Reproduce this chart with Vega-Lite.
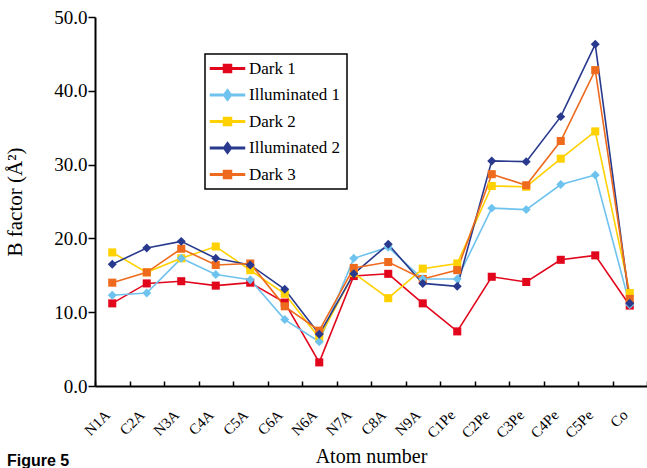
{
  "$schema": "https://vega.github.io/schema/vega-lite/v6.json",
  "width": 552,
  "height": 369,
  "autosize": "none",
  "padding": {"left": 95, "top": 17, "right": 0, "bottom": 82},
  "background": "white",
  "config": {
    "font": "Liberation Serif",
    "view": {"stroke": null}
  },
  "title": {
    "text": "Figure 5",
    "orient": "bottom",
    "anchor": "start",
    "frame": "group",
    "font": "Liberation Sans",
    "fontWeight": "bold",
    "fontSize": 16,
    "color": "black",
    "dx": -88,
    "offset": -14
  },
  "data": {
    "values": [
      {"atom": "N1A", "series": "Dark 1", "b": 11.2},
      {"atom": "C2A", "series": "Dark 1", "b": 13.9},
      {"atom": "N3A", "series": "Dark 1", "b": 14.2},
      {"atom": "C4A", "series": "Dark 1", "b": 13.6},
      {"atom": "C5A", "series": "Dark 1", "b": 14.0},
      {"atom": "C6A", "series": "Dark 1", "b": 11.3},
      {"atom": "N6A", "series": "Dark 1", "b": 3.2},
      {"atom": "N7A", "series": "Dark 1", "b": 14.9},
      {"atom": "C8A", "series": "Dark 1", "b": 15.2},
      {"atom": "N9A", "series": "Dark 1", "b": 11.2},
      {"atom": "C1Pe", "series": "Dark 1", "b": 7.4},
      {"atom": "C2Pe", "series": "Dark 1", "b": 14.8},
      {"atom": "C3Pe", "series": "Dark 1", "b": 14.1},
      {"atom": "C4Pe", "series": "Dark 1", "b": 17.1},
      {"atom": "C5Pe", "series": "Dark 1", "b": 17.7},
      {"atom": "Co", "series": "Dark 1", "b": 10.9},
      {"atom": "N1A", "series": "Illuminated 1", "b": 12.3},
      {"atom": "C2A", "series": "Illuminated 1", "b": 12.6},
      {"atom": "N3A", "series": "Illuminated 1", "b": 17.3},
      {"atom": "C4A", "series": "Illuminated 1", "b": 15.1},
      {"atom": "C5A", "series": "Illuminated 1", "b": 14.4},
      {"atom": "C6A", "series": "Illuminated 1", "b": 9.0},
      {"atom": "N6A", "series": "Illuminated 1", "b": 6.0},
      {"atom": "N7A", "series": "Illuminated 1", "b": 17.3},
      {"atom": "C8A", "series": "Illuminated 1", "b": 18.8},
      {"atom": "N9A", "series": "Illuminated 1", "b": 14.5},
      {"atom": "C1Pe", "series": "Illuminated 1", "b": 14.5},
      {"atom": "C2Pe", "series": "Illuminated 1", "b": 24.1},
      {"atom": "C3Pe", "series": "Illuminated 1", "b": 23.9},
      {"atom": "C4Pe", "series": "Illuminated 1", "b": 27.3},
      {"atom": "C5Pe", "series": "Illuminated 1", "b": 28.6},
      {"atom": "Co", "series": "Illuminated 1", "b": 11.0},
      {"atom": "N1A", "series": "Dark 2", "b": 18.1},
      {"atom": "C2A", "series": "Dark 2", "b": 15.4},
      {"atom": "N3A", "series": "Dark 2", "b": 17.3},
      {"atom": "C4A", "series": "Dark 2", "b": 18.9},
      {"atom": "C5A", "series": "Dark 2", "b": 15.7},
      {"atom": "C6A", "series": "Dark 2", "b": 12.5},
      {"atom": "N6A", "series": "Dark 2", "b": 6.5},
      {"atom": "N7A", "series": "Dark 2", "b": 15.3},
      {"atom": "C8A", "series": "Dark 2", "b": 11.9},
      {"atom": "N9A", "series": "Dark 2", "b": 15.9},
      {"atom": "C1Pe", "series": "Dark 2", "b": 16.6},
      {"atom": "C2Pe", "series": "Dark 2", "b": 27.1},
      {"atom": "C3Pe", "series": "Dark 2", "b": 27.0},
      {"atom": "C4Pe", "series": "Dark 2", "b": 30.8},
      {"atom": "C5Pe", "series": "Dark 2", "b": 34.5},
      {"atom": "Co", "series": "Dark 2", "b": 12.6},
      {"atom": "N1A", "series": "Illuminated 2", "b": 16.5},
      {"atom": "C2A", "series": "Illuminated 2", "b": 18.7},
      {"atom": "N3A", "series": "Illuminated 2", "b": 19.6},
      {"atom": "C4A", "series": "Illuminated 2", "b": 17.3},
      {"atom": "C5A", "series": "Illuminated 2", "b": 16.4},
      {"atom": "C6A", "series": "Illuminated 2", "b": 13.1},
      {"atom": "N6A", "series": "Illuminated 2", "b": 7.0},
      {"atom": "N7A", "series": "Illuminated 2", "b": 15.2},
      {"atom": "C8A", "series": "Illuminated 2", "b": 19.2},
      {"atom": "N9A", "series": "Illuminated 2", "b": 13.9},
      {"atom": "C1Pe", "series": "Illuminated 2", "b": 13.5},
      {"atom": "C2Pe", "series": "Illuminated 2", "b": 30.5},
      {"atom": "C3Pe", "series": "Illuminated 2", "b": 30.4},
      {"atom": "C4Pe", "series": "Illuminated 2", "b": 36.5},
      {"atom": "C5Pe", "series": "Illuminated 2", "b": 46.3},
      {"atom": "Co", "series": "Illuminated 2", "b": 11.2},
      {"atom": "N1A", "series": "Dark 3", "b": 14.0},
      {"atom": "C2A", "series": "Dark 3", "b": 15.4},
      {"atom": "N3A", "series": "Dark 3", "b": 18.6},
      {"atom": "C4A", "series": "Dark 3", "b": 16.4},
      {"atom": "C5A", "series": "Dark 3", "b": 16.6},
      {"atom": "C6A", "series": "Dark 3", "b": 10.8},
      {"atom": "N6A", "series": "Dark 3", "b": 7.5},
      {"atom": "N7A", "series": "Dark 3", "b": 16.0},
      {"atom": "C8A", "series": "Dark 3", "b": 16.8},
      {"atom": "N9A", "series": "Dark 3", "b": 14.5},
      {"atom": "C1Pe", "series": "Dark 3", "b": 15.7},
      {"atom": "C2Pe", "series": "Dark 3", "b": 28.7},
      {"atom": "C3Pe", "series": "Dark 3", "b": 27.2},
      {"atom": "C4Pe", "series": "Dark 3", "b": 33.2},
      {"atom": "C5Pe", "series": "Dark 3", "b": 42.8},
      {"atom": "Co", "series": "Dark 3", "b": 11.8}
    ]
  },
  "encoding": {
    "x": {
      "field": "atom",
      "type": "nominal",
      "sort": ["N1A","C2A","N3A","C4A","C5A","C6A","N6A","N7A","C8A","N9A","C1Pe","C2Pe","C3Pe","C4Pe","C5Pe","Co"],
      "scale": {"paddingInner": 0, "paddingOuter": 0},
      "axis": {
        "title": "Atom number",
        "titleFont": "Liberation Serif",
        "titleFontSize": 20,
        "titleFontWeight": "normal",
        "titleColor": "black",
        "titlePadding": 6,
        "labelAngle": -45,
        "labelFont": "Liberation Serif",
        "labelFontSize": 15,
        "labelColor": "black",
        "labelPadding": 26,
        "labelOffset": -10,
        "tickBand": "extent",
        "tickSize": -5,
        "tickColor": "black",
        "tickWidth": 1.5,
        "domainColor": "black",
        "domainWidth": 2,
        "grid": false
      }
    },
    "y": {
      "field": "b",
      "type": "quantitative",
      "scale": {"domain": [0, 50], "nice": false},
      "axis": {
        "title": "B factor (Å²)",
        "titleFont": "Liberation Serif",
        "titleFontSize": 21,
        "titleFontWeight": "normal",
        "titleColor": "black",
        "titlePadding": 28,
        "values": [0, 10, 20, 30, 40, 50],
        "format": ".1f",
        "labelFont": "Liberation Serif",
        "labelFontSize": 19,
        "labelColor": "black",
        "labelPadding": 1,
        "tickSize": 7,
        "tickColor": "black",
        "tickWidth": 1.5,
        "domainColor": "black",
        "domainWidth": 2,
        "grid": false
      }
    },
    "color": {
      "field": "series",
      "type": "nominal",
      "scale": {
        "domain": ["Dark 1", "Illuminated 1", "Dark 2", "Illuminated 2", "Dark 3"],
        "range": ["#e2061c", "#6ec3ee", "#ffd100", "#293a8e", "#ee6a1c"]
      },
      "legend": {
        "title": null,
        "orient": "none",
        "legendX": 110,
        "legendY": 37,
        "strokeColor": "black",
        "padding": 6,
        "labelFont": "Liberation Serif",
        "labelFontSize": 17,
        "labelColor": "black",
        "labelOffset": 13,
        "symbolSize": 100,
        "rowPadding": 8.5,
        "symbolOffset": 8,
        "encode": {
          "symbols": {
            "update": {
              "shape": {"signal": "indexof(['Illuminated 1','Illuminated 2'], datum.value) >= 0 ? 'M-3.4,-0.15H3.4V0.15H-3.4ZM0,-1.1L0.8,0L0,1.1L-0.8,0Z' : 'M-3.4,-0.15H3.4V0.15H-3.4ZM-0.8,-0.8H0.8V0.8H-0.8Z'"},
              "fill": {"scale": "color", "field": "value"},
              "opacity": {"value": 1}
            }
          },
          "legend": {
            "update": {"strokeWidth": {"value": 1.5}}
          }
        }
      }
    }
  },
  "layer": [
    {
      "mark": {"type": "line", "strokeWidth": 1.6}
    },
    {
      "transform": [{"filter": "indexof(['Dark 1','Dark 2','Dark 3'], datum.series) >= 0"}],
      "mark": {"type": "point", "filled": true, "opacity": 1, "size": 65, "shape": "square"}
    },
    {
      "transform": [{"filter": "indexof(['Illuminated 1','Illuminated 2'], datum.series) >= 0"}],
      "mark": {"type": "point", "filled": true, "opacity": 1, "size": 80, "shape": "diamond"}
    }
  ]
}
